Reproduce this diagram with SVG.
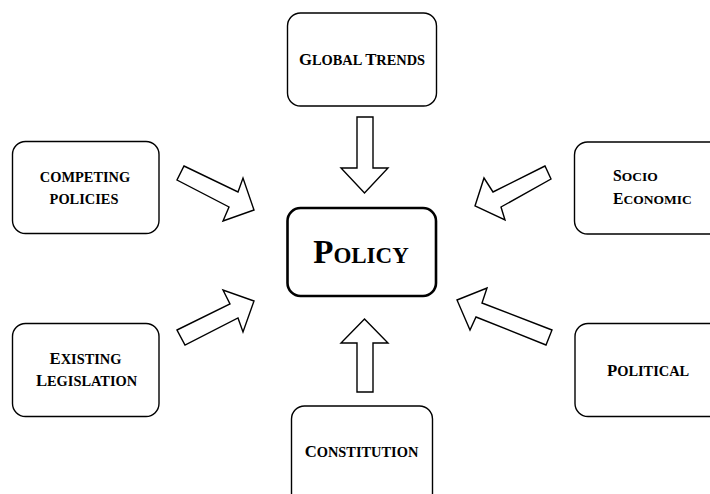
<svg xmlns="http://www.w3.org/2000/svg" width="710" height="494" viewBox="0 0 710 494">
  <style>
    .box { fill: #ffffff; stroke: #000000; stroke-width: 1.4; }
    .core { fill: #ffffff; stroke: #000000; stroke-width: 2.6; }
    .arrow { fill: #ffffff; stroke: #000000; stroke-width: 1.4; stroke-linejoin: miter; }
    .lbl { font-family: "Liberation Serif", "Times New Roman", serif; font-weight: bold; font-size: 14.4px; fill: #000000; }
    .cap { font-size: 16.7px; }
    .lbl-s { font-size: 13.5px; }
    .cap-s { font-size: 15.7px; }
    .big { font-family: "Liberation Serif", "Times New Roman", serif; font-weight: bold; font-size: 23px; fill: #000000; }
    .bigcap { font-size: 33px; }
  </style>

  <rect width="710" height="494" fill="#ffffff"/>

  <!-- block arrows pointing at the central node -->
  <g id="connectors">
    <polygon class="arrow" points="357,117 373,117 373,168 388,168 364.5,193 341,168 357,168"/>
    <polygon class="arrow" points="364.5,319 388,343 373,343 373,392 357,392 357,343 341,343"/>
    <polygon class="arrow" points="184,166 238,192 243,178 254,210 223,221 229,207 177,180"/>
    <polygon class="arrow" points="177,330 230,304 223,290 254,301 243,332 238,318 185,345"/>
    <polygon class="arrow" points="545,166 493,192 484,178 475,206 505,220 501,207 551,179"/>
    <polygon class="arrow" points="457,300 487,288 482,303 552,330 546,345 476,317 470,330"/>
  </g>

  <g id="global-trends">
    <rect class="box" x="287.5" y="13" width="149" height="93" rx="13"/>
    <text class="lbl" x="362" y="65" text-anchor="middle"><tspan class="cap">G</tspan>LOBAL <tspan class="cap">T</tspan>RENDS</text>
  </g>

  <g id="competing-policies">
    <rect class="box" x="12.5" y="141.5" width="146.5" height="92" rx="13"/>
    <text class="lbl" x="85" y="182" text-anchor="middle">COMPETING</text>
    <text class="lbl" x="84" y="204" text-anchor="middle">POLICIES</text>
  </g>

  <g id="socio-economic">
    <rect class="box" x="574.5" y="142" width="160" height="92" rx="13"/>
    <text class="lbl lbl-s" x="613" y="181"><tspan class="cap-s">S</tspan>OCIO</text>
    <text class="lbl lbl-s" x="613" y="204"><tspan class="cap-s">E</tspan>CONOMIC</text>
  </g>

  <g id="policy">
    <rect class="core" x="287.5" y="208" width="148.5" height="88" rx="13"/>
    <text class="big" x="361" y="263" text-anchor="middle"><tspan class="bigcap">P</tspan>OLICY</text>
  </g>

  <g id="existing-legislation">
    <rect class="box" x="12.5" y="323.5" width="146.5" height="93" rx="13"/>
    <text class="lbl" x="85.5" y="364" text-anchor="middle"><tspan class="cap">E</tspan>XISTING</text>
    <text class="lbl" x="86.5" y="386" text-anchor="middle"><tspan class="cap">L</tspan>EGISLATION</text>
  </g>

  <g id="political">
    <rect class="box" x="575" y="323.5" width="160" height="93" rx="13"/>
    <text class="lbl" x="607" y="376"><tspan class="cap">P</tspan>OLITICAL</text>
  </g>

  <g id="constitution">
    <rect class="box" x="291.5" y="406" width="141" height="100" rx="13"/>
    <text class="lbl" x="361.5" y="457" text-anchor="middle"><tspan class="cap">C</tspan>ONSTITUTION</text>
  </g>
</svg>
